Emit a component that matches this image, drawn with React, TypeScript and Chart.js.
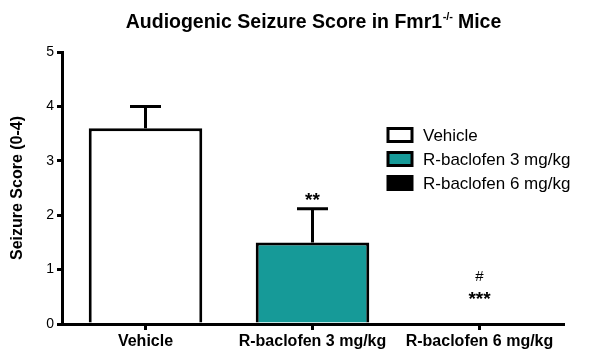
import React, { useEffect, useRef } from "react";
import { Chart, registerables } from "chart.js";

Chart.register(...registerables);

const categories = ["Vehicle", "R-baclofen 3 mg/kg", "R-baclofen 6 mg/kg"];
const means = [3.6, 1.5, 0];
const sems = [0.4, 0.62, 0];
const barColors = ["#ffffff", "#169a98", "#000000"];
const starLabels = ["", "**", "***"];
const starY = [null, 2.33, 0.52];
const hashLabels = ["", "", "#"];
const hashY = [null, null, 0.87];
const yMin = 0;
const yMax = 5;
const yStep = 1;
const titleMain = "Audiogenic Seizure Score in Fmr1";
const titleSup = "-/-";
const titleEnd = " Mice";
const yTitle = "Seizure Score (0-4)";

const FONT = "'Liberation Sans', Arial, Helvetica, sans-serif";

const extrasPlugin = {
  id: "extras",
  afterDatasetsDraw(chart: any) {
    const ctx = chart.ctx;
    const x = chart.scales.x;
    const y = chart.scales.y;
    ctx.save();
    // error bars
    ctx.strokeStyle = "#000";
    ctx.lineWidth = 3;
    chart.data.datasets.forEach((ds: any, di: number) => {
      const meta = chart.getDatasetMeta(di);
      ds.data.forEach((v: any, j: number) => {
        if (v === null || v === undefined) return;
        const err = sems[j];
        if (!err) return;
        const el = meta.data[j];
        const cx = el.x;
        const yb = y.getPixelForValue(v);
        const yt = y.getPixelForValue(v + err);
        ctx.beginPath();
        ctx.moveTo(cx, yb);
        ctx.lineTo(cx, yt);
        ctx.moveTo(cx - 15.5, yt);
        ctx.lineTo(cx + 15.5, yt);
        ctx.stroke();
      });
    });
    // significance labels
    ctx.fillStyle = "#000";
    ctx.textAlign = "center";
    ctx.textBaseline = "middle";
    categories.forEach((_, j) => {
      const cx = x.getPixelForValue(j);
      if (starLabels[j] && starY[j] !== null) {
        ctx.font = `bold 19px ${FONT}`;
        ctx.fillText(starLabels[j], cx, y.getPixelForValue(starY[j] as number) + 4);
      }
      if (hashLabels[j] && hashY[j] !== null) {
        ctx.font = `15px ${FONT}`;
        ctx.fillText(hashLabels[j], cx, y.getPixelForValue(hashY[j] as number));
      }
    });
    // legend
    const lx = 388;
    const ly0 = 135;
    const gap = 24;
    ctx.textAlign = "left";
    ctx.font = `17px ${FONT}`;
    chart.data.datasets.forEach((ds: any, i: number) => {
      const cy = ly0 + i * gap;
      ctx.fillStyle = ds.backgroundColor;
      ctx.fillRect(lx, cy - 6.5, 24, 13);
      ctx.lineWidth = 3;
      ctx.strokeStyle = "#000";
      ctx.strokeRect(lx, cy - 6.5, 24, 13);
      ctx.fillStyle = "#000";
      ctx.fillText(ds.label, 423, cy + 1);
    });
    // title
    ctx.textBaseline = "alphabetic";
    ctx.font = `bold 19.5px ${FONT}`;
    const w1 = ctx.measureText(titleMain).width;
    const w3 = ctx.measureText(titleEnd).width;
    ctx.font = `bold 11px ${FONT}`;
    const w2 = ctx.measureText(titleSup).width;
    const total = w1 + w2 + w3;
    const start = 313.5 - total / 2;
    const base = 28;
    ctx.font = `bold 19.5px ${FONT}`;
    ctx.fillText(titleMain, start, base);
    ctx.font = `bold 11px ${FONT}`;
    ctx.fillText(titleSup, start + w1 + 0.5, base - 8);
    ctx.font = `bold 19.5px ${FONT}`;
    ctx.fillText(titleEnd, start + w1 + w2, base);
    ctx.restore();
  },
};

export default function App() {
  const ref = useRef<HTMLCanvasElement | null>(null);
  useEffect(() => {
    if (!ref.current) return;
    Chart.defaults.font.family = FONT;
    const datasets = categories.map((c, i) => ({
      label: c,
      data: categories.map((_, j) => (j === i ? means[i] : null)),
      backgroundColor: barColors[i],
      borderColor: "#000000",
      borderWidth: 3,
      borderSkipped: "start" as any,
      barPercentage: 0.68,
      categoryPercentage: 1.0,
      grouped: false,
    }));
    const chart = new Chart(ref.current, {
      type: "bar",
      data: { labels: categories, datasets },
      options: {
        responsive: false,
        animation: false,
        devicePixelRatio: 1,
        layout: { padding: { top: 52, right: 37, left: 0, bottom: 0 } },
        plugins: {
          legend: { display: false },
          tooltip: { enabled: false },
          title: { display: false },
        },
        scales: {
          x: {
            type: "category",
            offset: true,
            afterFit: (s: any) => {
              s.height = 31;
            },
            grid: {
              display: true,
              drawOnChartArea: false,
              drawTicks: true,
              tickLength: 6,
              offset: false,
              color: "#000",
              lineWidth: 3,
            },
            border: { display: true, color: "#000", width: 3 },
            ticks: {
              color: "#000",
              font: { size: 16, weight: "bold", family: FONT },
              padding: 2,
              maxRotation: 0,
              autoSkip: false,
            },
          },
          y: {
            min: yMin,
            max: yMax,
            afterFit: (s: any) => {
              s.width = 62;
            },
            grid: {
              display: true,
              drawOnChartArea: false,
              drawTicks: true,
              tickLength: 5,
              color: "#000",
              lineWidth: 3,
            },
            border: { display: true, color: "#000", width: 3 },
            ticks: {
              stepSize: yStep,
              color: "#000",
              font: { size: 14, family: FONT },
              padding: 3,
            },
            title: {
              display: true,
              text: yTitle,
              color: "#000",
              font: { size: 16, weight: "bold", family: FONT },
              padding: { top: 8, bottom: 0 },
            },
          },
        },
      },
      plugins: [extrasPlugin],
    });
    return () => chart.destroy();
  }, []);
  return (
    <div style={{ position: "absolute", left: 0, top: 0, width: 600, height: 355, background: "#fff" }}>
      <canvas ref={ref} width={600} height={355} style={{ width: 600, height: 355, display: "block" }} />
    </div>
  );
}
